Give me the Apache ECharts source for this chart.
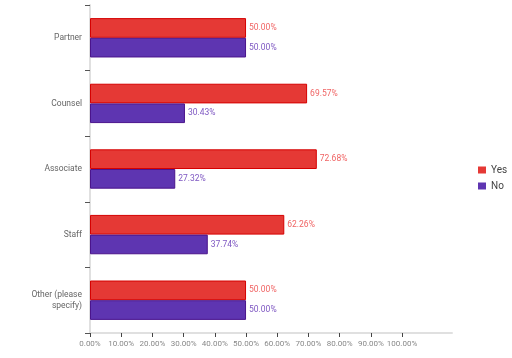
<!DOCTYPE html>
<html><head><meta charset="utf-8">
<script src="https://cdn.jsdelivr.net/npm/echarts@6/dist/echarts.min.js"></script>
<style>html,body{margin:0;padding:0;background:#fff}#c{width:512px;height:358px}</style>
</head><body><div id="c"></div>
<script>
const categories = ['Partner', 'Counsel', 'Associate', 'Staff', 'Other (please\nspecify)'];
const yesValues = [50.00, 69.57, 72.68, 62.26, 50.00];
const noValues = [50.00, 30.43, 27.32, 37.74, 50.00];
const tickValues = [0, 10, 20, 30, 40, 50, 60, 70, 80, 90, 100];

const chart = echarts.init(document.getElementById('c'), null, {renderer: 'canvas'});
const font = 'Roboto, "Liberation Sans", Arial, sans-serif';
chart.setOption({
  animation: false,
  backgroundColor: '#fff',
  grid: {left: 90, right: 60, top: 5, bottom: 25, containLabel: false},
  legend: {
    orient: 'vertical', left: 473, top: 160,
    itemWidth: 8, itemHeight: 7, itemGap: 6,
    icon: 'rect',
    itemStyle: {borderWidth: 0},
    textStyle: {fontSize: 10, color: '#444', fontFamily: font},
    data: ['Yes', 'No']
  },
  xAxis: {
    type: 'value', min: 0, max: 116, interval: 10,
    splitLine: {show: false},
    axisLine: {show: true, lineStyle: {color: '#e0e0e0', width: 2}},
    axisTick: {show: true, length: 4, lineStyle: {color: '#444'}, customValues: tickValues},
    axisLabel: {
      customValues: tickValues, fontSize: 8, color: '#888', fontFamily: font, margin: 7,
      formatter: v => v.toFixed(2) + '%'
    }
  },
  yAxis: {
    type: 'category', data: categories, inverse: true,
    axisLine: {show: true, lineStyle: {color: '#e0e0e0', width: 2}},
    axisTick: {show: true, length: 5, lineStyle: {color: '#555'}},
    axisLabel: {fontSize: 8.5, color: '#666', fontFamily: font, margin: 8, lineHeight: 11}
  },
  series: [
    {
      name: 'Yes', type: 'bar', data: yesValues,
      barGap: '0%', barCategoryGap: '40%',
      itemStyle: {color: '#e53935', borderColor: '#d50000', borderWidth: 1},
      label: {show: true, position: 'right', distance: 3, fontSize: 8.5, color: '#f06464', fontFamily: font,
        formatter: p => p.value.toFixed(2) + '%'}
    },
    {
      name: 'No', type: 'bar', data: noValues,
      itemStyle: {color: '#5e35b1', borderColor: '#4a148c', borderWidth: 1},
      label: {show: true, position: 'right', distance: 3, fontSize: 8.5, color: '#7e57c2', fontFamily: font,
        formatter: p => p.value.toFixed(2) + '%'}
    }
  ]
});
</script></body></html>
